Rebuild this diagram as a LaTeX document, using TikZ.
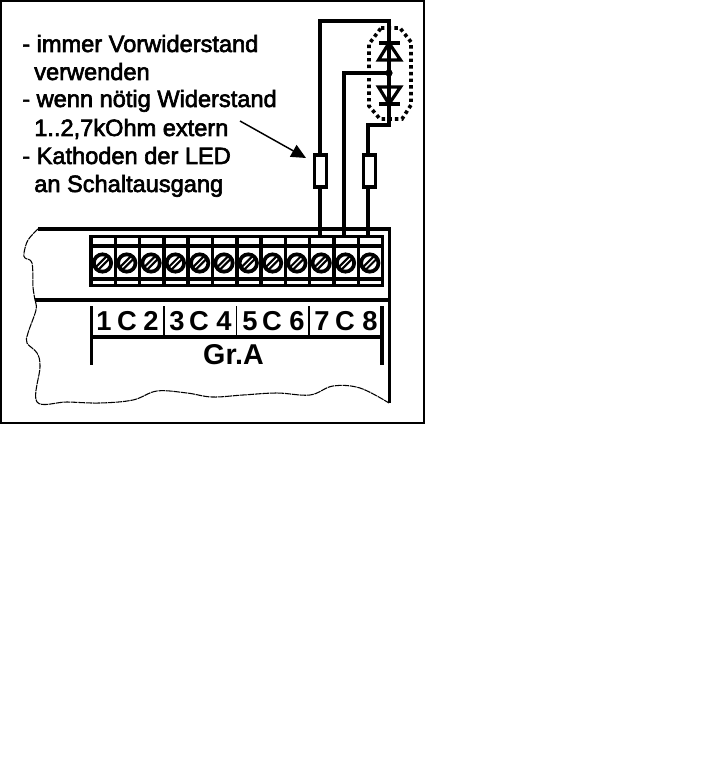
\documentclass[tikz,border=0pt]{standalone}
\usepackage{fontspec}
\setmainfont{Liberation Sans}
\newfontfamily\txtfont[FakeBold=2.6]{Liberation Sans}
\usetikzlibrary{arrows.meta}
\tikzset{
 x=0.75pt,y=-0.75pt,
 wire/.style={line width=2.6pt,line cap=butt,line join=miter},
 res/.style={draw,line width=2.8pt,fill=white,minimum width=9pt,minimum height=24pt,inner sep=0pt},
 txt/.style={anchor=base west,inner sep=0pt,font=\fontsize{17.7}{18}\txtfont},
 lab/.style={anchor=base,inner sep=0pt,font=\fontsize{20.5}{21}\selectfont\bfseries},
 grlab/.style={anchor=base,inner sep=0pt,font=\fontsize{21.5}{22}\selectfont\bfseries},
 screw/.style={circle,draw,line width=2.8pt,minimum size=13pt,inner sep=0pt,fill=white},
}
\begin{document}
\begin{tikzpicture}
\useasboundingbox (0,0) rectangle (714,763);
\fill[white] (0,0) rectangle (714,763);
\draw[line width=1.6pt] (1,1) -- (424,1) -- (424,423) -- (1,423) -- cycle;
% text
\node[txt] (t1) at (22,52) {- immer Vorwiderstand};
\node[txt] (t2) at (34,80) {verwenden};
\node[txt] (t3) at (22,107) {- wenn nötig Widerstand};
\node[txt] (t4) at (34,136) {1..2,7kOhm extern};
\node[txt] (t5) at (22,164) {- Kathoden der LED};
\node[txt] (t6) at (34,192) {an Schaltausgang};
% wires and resistors
\coordinate (w1b) at (320,236);
\coordinate (w2b) at (344,236);
\coordinate (w3b) at (368,236);
\coordinate (top) at (389,21);
\coordinate (junc) at (389,73);
\coordinate (low) at (389,125);
\node[res] (r1) at (320.5,171) {};
\node[res] (r2) at (369.5,171) {};
\draw[wire] (r1.north -| 320,0) -- (320,21) -- (top) -- (low) -- (368,125) -- (368,153);
\draw[wire] (320,189) -- (w1b);
\draw[wire] (368,189) -- (w3b);
\draw[wire] (junc) -- (344,73) -- (w2b);
\fill (junc) circle[radius=3.6];
% LEDs
\draw[line width=2.4pt,fill=white] (389,43) -- (378.5,60) -- (400.5,60) -- cycle;
\draw[line width=2.4pt,fill=white] (389,104) -- (378.5,87) -- (400.5,87) -- cycle;
\draw[wire] (379,43) -- (400,43);
\draw[wire] (379,104) -- (400,104);
\draw[wire] (389,43) -- (389,60);
\draw[wire] (389,87) -- (389,104);
\draw[line width=2.7pt,dash pattern=on 2.6pt off 2.4pt] (381,28) -- (400,28) -- (411,42) -- (411,105) -- (402,119) -- (380,119) -- (369,106) -- (369,44) -- cycle;
% arrow
\coordinate (as) at (240,121);
\coordinate (ae) at (306,158);
\draw[line width=1.1pt,-{Triangle[length=11pt,width=10pt]}] (as) -- (ae);
% housing
\draw[line width=2.6pt] (38,229) -- (389.5,229) -- (389.5,403);
\draw[line width=2.6pt] (35,300) -- (389,300);
\draw[line width=0.8pt,dash pattern=on 5pt off 0.6pt] plot[smooth,tension=0.6] coordinates {(38,229) (28,240) (24,253) (25,258) (32,263) (33,287) (35,300) (36,310) (28,333) (27,343) (37,353) (40,367) (37,402) (67,402) (100,403) (133,400) (157,391) (187,393) (212,397) (243,395) (277,393) (310,395) (333,386) (360,388) (389,403)};
% terminal block
\draw[line width=2.6pt] (91,236.5) rectangle (382.5,285.5);
\draw[line width=2.6pt] (91,246) -- (382.5,246);
\draw[line width=2.6pt] (91,279) -- (382.5,279);
\foreach \i in {1,...,11} \draw[line width=2.6pt] ({91+\i*24.3},236.5) -- ({91+\i*24.3},285.5);
\foreach \i in {0,...,11} {
  \node[screw] (s\i) at ({102.5+\i*24.3},263) {};
  \draw[line width=4.4pt] ({102.5+\i*24.3-6},269) -- ({102.5+\i*24.3+6},257);
  \draw[white,line width=1pt] ({102.5+\i*24.3-4.5},267.5) -- ({102.5+\i*24.3+4.5},258.5);
}
% labels
\draw[line width=2.6pt] (91.5,306) -- (91.5,365);
\draw[line width=2.6pt] (382,306) -- (382,365);
\draw[line width=2.6pt] (91,337) -- (382,337);
\foreach \x in {164,236.5,309} \draw[line width=1.4pt] (\x,306) -- (\x,337);
\foreach \n/\x/\s in {a/104/1,b/127/C,c/151/2,d/177/3,e/199/C,f/224/4,g/250/5,h/272/C,i/297/6,j/322/7,k/345/C,l/370/8}
  \node[lab] (n\n) at (\x,330) {\s};
\node[grlab] (gr) at (233.5,364) {Gr.A};
\end{tikzpicture}
\end{document}
